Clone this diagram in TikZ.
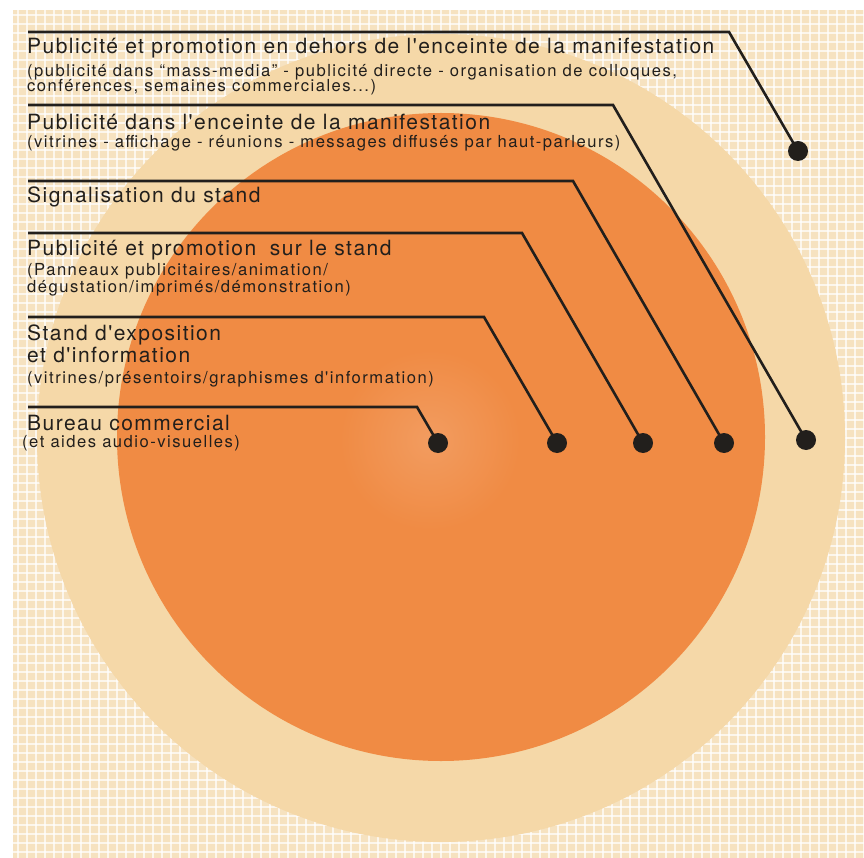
\documentclass[tikz,border=0pt]{standalone}
\usepackage{fontspec}
\setmainfont{TeX Gyre Heros}
\newfontfamily\headfont{TeX Gyre Heros}[LetterSpace=7]
\newfontfamily\subfont{TeX Gyre Heros}[LetterSpace=9]
\definecolor{ink}{HTML}{221F1C}
\definecolor{bgbeige}{HTML}{F6E2C0}
\definecolor{pale}{HTML}{F5D8A8}
\definecolor{orng}{HTML}{F08B44}
\definecolor{orngl}{HTML}{F29C60}
\begin{document}
\begin{tikzpicture}[x=1pt,y=-1pt,
  head/.style={anchor=base west, inner sep=0pt, text=ink, font=\headfont\fontsize{21}{23}\selectfont},
  subtext/.style={anchor=base west, inner sep=0pt, text=ink, font=\subfont\fontsize{16.6}{18}\selectfont},
  leader/.style={draw=ink, line width=2.6pt, line join=miter},
  dotnode/.style={circle, fill=ink, minimum size=20pt, inner sep=0pt}]
\useasboundingbox (0,0) rectangle (864,858);
\fill[white] (0,0) rectangle (864,858);
% background grid texture
\fill[bgbeige] (13,10) rectangle (864,858);
\begin{scope}
  \clip (13,10) rectangle (864,858);
  \foreach \x in {18,27,...,864} \draw[white, line width=2.6pt, opacity=.7] (\x,10) -- (\x,858);
  \foreach \y in {15,24,...,858} \draw[white, line width=2.6pt, opacity=.7] (13,\y) -- (864,\y);
\end{scope}
% circles
\fill[pale] (441,438) circle (404pt);
\fill[orng] (441,437) circle (324pt);
\shade[inner color=orngl, outer color=orng] (430,440) circle (90pt);
% dots
\node[dotnode] (d1) at (798,151) {};
\node[dotnode] (d2) at (806,440) {};
\node[dotnode] (d3) at (724,443) {};
\node[dotnode] (d4) at (643,443) {};
\node[dotnode] (d5) at (557,443) {};
\node[dotnode] (d6) at (438,443) {};
% leader coordinates
\coordinate (s1) at (28,32);  \coordinate (c1) at (729,32);
\coordinate (s2) at (28,105); \coordinate (c2) at (613,105);
\coordinate (s3) at (28,181); \coordinate (c3) at (573,181);
\coordinate (s4) at (28,233); \coordinate (c4) at (522,233);
\coordinate (s5) at (28,317); \coordinate (c5) at (484,317);
\coordinate (s6) at (28,407); \coordinate (c6) at (417,407);
\draw[leader] (s1) -- (c1) -- (d1.center);
\draw[leader] (s2) -- (c2) -- (d2.center);
\draw[leader] (s3) -- (c3) -- (d3.center);
\draw[leader] (s4) -- (c4) -- (d4.center);
\draw[leader] (s5) -- (c5) -- (d5.center);
\draw[leader] (s6) -- (c6) -- (d6.center);
% texts
\node[head] (h1) at (27,54) {Publicité et promotion en dehors de l'enceinte de la manifestation};
\node[subtext] (t1a) at (27,77) {(publicité dans “mass-media” - publicité directe - organisation de colloques,};
\node[subtext] (t1b) at (27,92) {conférences, semaines commerciales...)};
\node[head] (h2) at (27,130) {Publicité dans l'enceinte de la manifestation};
\node[subtext] (t2) at (27,148) {(vitrines - affichage - réunions - messages diffusés par haut-parleurs)};
\node[head] (h3) at (27,203) {Signalisation du stand};
\node[head] (h4) at (27,256) {Publicité et promotion\hspace{0.3em} sur le stand};
\node[subtext] (t4a) at (27,276) {(Panneaux publicitaires/animation/};
\node[subtext] (t4b) at (27,293) {dégustation/imprimés/démonstration)};
\node[head] (h5a) at (27,340) {Stand d'exposition};
\node[head] (h5b) at (27,362) {et d'information};
\node[subtext] (t5) at (27,383) {(vitrines/présentoirs/graphismes d'information)};
\node[head] (h6) at (27,430) {Bureau commercial};
\node[subtext] (t6) at (22,447) {(et aides audio-visuelles)};
\end{tikzpicture}
\end{document}
